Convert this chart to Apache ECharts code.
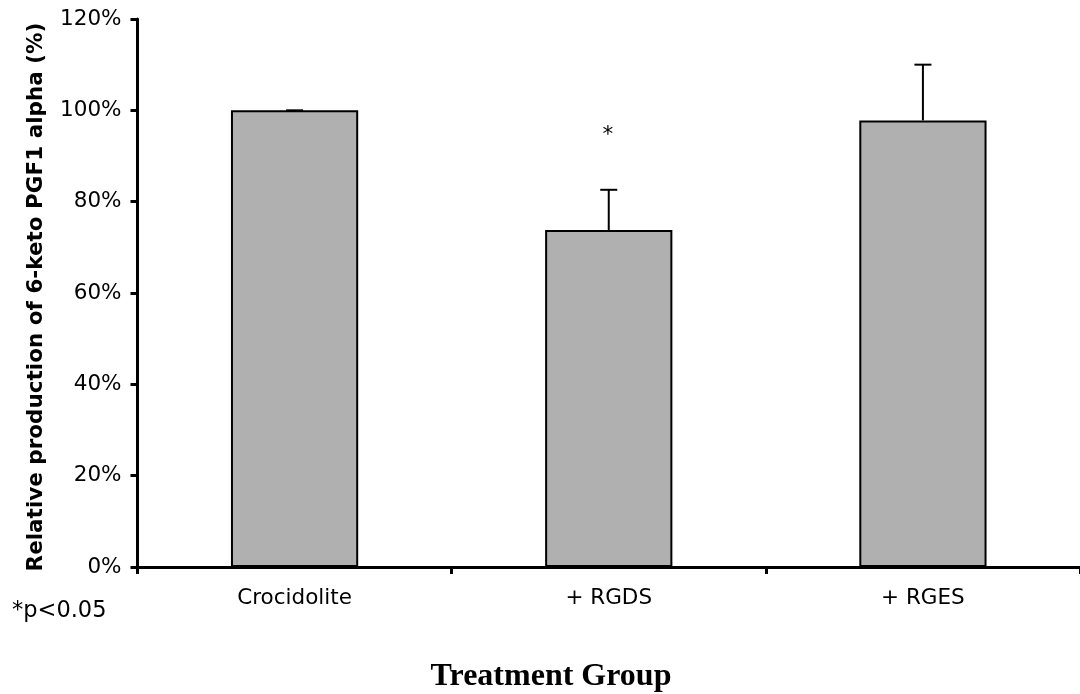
<!DOCTYPE html>
<html>
<head>
<meta charset="utf-8">
<script src="https://cdn.jsdelivr.net/npm/echarts@6/dist/echarts.min.js"></script>
<style>
  html, body { margin: 0; padding: 0; background: #fff; }
  #main { width: 1080px; height: 694px; }
</style>
</head>
<body>
<div id="main"></div>
<script>
// 数据
var groups = ['Crocidolite', '+ RGDS', '+ RGES'];
var means = [100, 73.8, 97.8];
var errs = [0, 8.8, 12.2];
var sigMarks = ['', '*', ''];
var sigY = [null, 94.6, null];
var yTicks = [0, 20, 40, 60, 80, 100, 120];

var font = 'DejaVu Sans';

var errData = [];
for (var i = 0; i < groups.length; i++) {
    errData.push([i, means[i], means[i] + errs[i]]);
}
var sigData = [];
for (var i = 0; i < groups.length; i++) {
    if (sigMarks[i]) sigData.push([i, sigY[i]]);
}

var myChart = echarts.init(document.getElementById('main'));

var option = {
    animation: false,
    backgroundColor: '#fff',
    grid: {
        left: 137.5,
        right: -3,
        top: 19,
        bottom: 127
    },
    xAxis: {
        type: 'category',
        data: groups,
        axisLine: { show: true, lineStyle: { color: '#000', width: 3 } },
        axisTick: { show: true, length: 7, lineStyle: { color: '#000', width: 3 } },
        axisLabel: { color: '#000', fontFamily: font, fontSize: 21.5, margin: 20 }
    },
    yAxis: {
        type: 'value',
        min: yTicks[0],
        max: yTicks[yTicks.length - 1],
        interval: 20,
        name: 'Relative production of 6-keto PGF1 alpha (%)',
        nameLocation: 'middle',
        nameRotate: 90,
        nameGap: 90,
        nameTextStyle: { color: '#000', fontFamily: font, fontSize: 21.5, fontWeight: 'bold', padding: [0, 8, 0, 0] },
        splitLine: { show: false },
        axisLine: { show: true, lineStyle: { color: '#000', width: 3 } },
        axisTick: { show: true, length: 7, lineStyle: { color: '#000', width: 3 } },
        axisLabel: { color: '#000', fontFamily: font, fontSize: 21.5, margin: 16, formatter: '{value}%' }
    },
    graphic: [
        {
            type: 'text',
            style: { text: '*p<0.05', x: 12, y: 611, verticalAlign: 'middle', fill: '#000', font: '22.5px "DejaVu Sans"' }
        },
        {
            type: 'text',
            style: { text: 'Treatment Group', x: 551, y: 677, align: 'center', verticalAlign: 'middle', fill: '#000', font: 'bold 32px "Liberation Serif"' }
        }
    ],
    series: [
        {
            type: 'bar',
            data: means,
            barWidth: '40.5%',
            itemStyle: { color: '#b0b0b0', borderColor: '#000', borderWidth: 2 },
            z: 2
        },
        {
            // 误差线
            type: 'custom',
            data: errData,
            z: 3,
            renderItem: function (params, api) {
                var lo = api.coord([api.value(0), api.value(1)]);
                var hi = api.coord([api.value(0), api.value(2)]);
                var half = 8.5;
                return {
                    type: 'group',
                    children: [
                        { type: 'line', shape: { x1: lo[0], y1: lo[1], x2: hi[0], y2: hi[1] }, style: { stroke: '#000', lineWidth: 2 } },
                        { type: 'line', shape: { x1: hi[0] - half, y1: hi[1], x2: hi[0] + half, y2: hi[1] }, style: { stroke: '#000', lineWidth: 2 } }
                    ]
                };
            }
        },
        {
            // 显著性标记
            type: 'custom',
            data: sigData,
            z: 3,
            renderItem: function (params, api) {
                var p = api.coord([api.value(0), api.value(1)]);
                return {
                    type: 'text',
                    style: { text: sigMarks[api.value(0)], x: p[0] - 1, y: p[1], align: 'center', verticalAlign: 'middle', fill: '#000', font: '21.5px "DejaVu Sans"' }
                };
            }
        }
    ]
};

myChart.setOption(option);
</script>
</body>
</html>
